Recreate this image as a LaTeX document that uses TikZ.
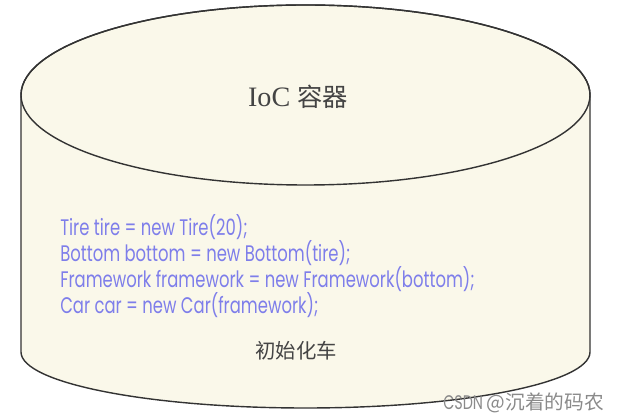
\documentclass[tikz,border=0pt]{standalone}
\usepackage{fontspec}
\usepackage{tikz}
\newfontfamily\codefont{Poppins}[FakeStretch=0.73]
\newfontfamily\cjkfont{Noto Sans CJK SC}
\newfontfamily\titlefont{Liberation Serif}
\definecolor{cream}{HTML}{FAF8EA}
\definecolor{rimline}{HTML}{333333}
\definecolor{codeblue}{HTML}{7E7EEA}
\definecolor{labelgray}{HTML}{444444}
\definecolor{markgray}{HTML}{8A8A8A}

\begin{document}
\begin{tikzpicture}[x=0.025cm,y=0.025cm]
        \useasboundingbox (0,0) rectangle (630,420);

        % cylinder body and lid
        \filldraw[fill=cream, draw=rimline, line width=1pt]
          (21,325) -- (21,68)
          arc[start angle=180, end angle=360, x radius=284.5, y radius=56]
          -- (590,325)
          arc[start angle=0, end angle=180, x radius=284.5, y radius=90] -- cycle;
        \draw[rimline, line width=1pt] (305.5,325) ellipse[x radius=284.5, y radius=90];

        \node[text=labelgray] (ioc) at (298,323) {\titlefont\fontsize{20}{24}\selectfont IoC {\cjkfont\fontsize{18}{22}\selectfont 容器}};

        \begin{scope}[every node/.style={anchor=base west, inner sep=0pt, text=codeblue, font=\codefont\fontsize{16}{19}\selectfont}]
          \node (tire)      at (60,184) {Tire tire = new Tire(20);};
          \node (bottom)    at (60,158) {Bottom bottom = new Bottom(tire);};
          \node (framework) at (60,132) {Framework framework = new Framework(bottom);};
          \node (car)       at (60,106) {Car car = new Car(framework);};
        \end{scope}

        \node[text=labelgray, font=\cjkfont\fontsize{14.5}{17}\selectfont] (init) at (296,69) {初始化车};

        \node[text=markgray, anchor=west, inner sep=0pt, font=\fontsize{14}{16}\selectfont] (mark) at (443,17) {\codefont CSDN {\cjkfont @沉着的码农}};

      \end{tikzpicture}
\end{document}
